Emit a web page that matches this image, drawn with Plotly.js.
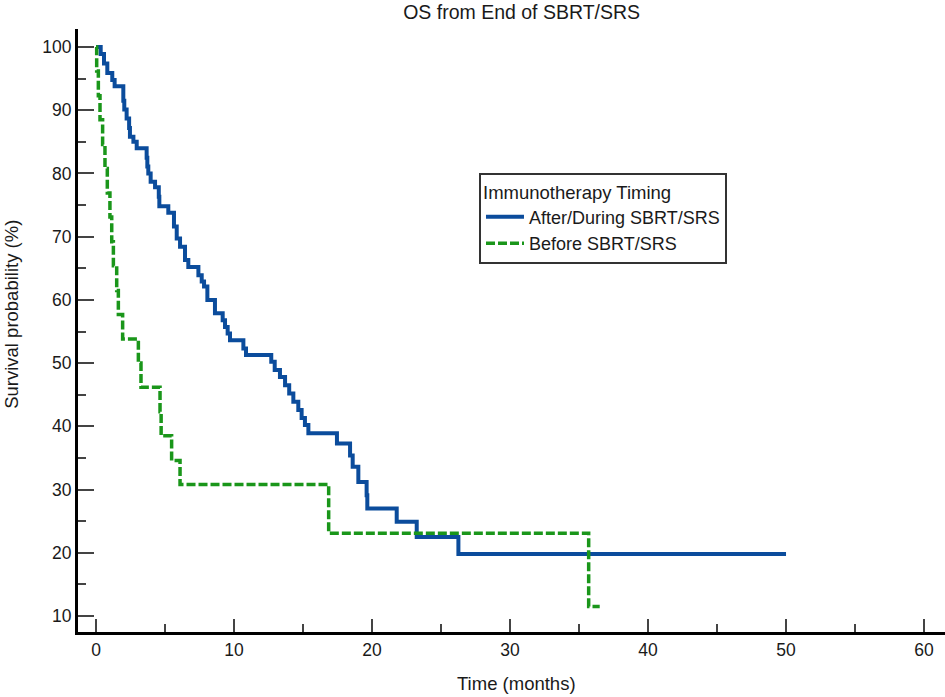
<!DOCTYPE html>
<html>
<head>
<meta charset="utf-8">
<script src="https://cdn.plot.ly/plotly-3.0.1.min.js"></script>
<style>html,body{margin:0;padding:0;background:#fff;}#chart{width:945px;height:697px;}</style>
</head>
<body>
<div id="chart"></div>
<script>
// Kaplan-Meier step data (time in months, survival in %)
const afterTimes = [0, 0.34, 0.58, 0.82, 1.18, 1.35, 1.98, 2.05, 2.22, 2.40, 2.46, 2.71, 2.95, 3.67, 3.72, 3.79, 3.96, 4.28, 4.55, 4.59, 5.24, 5.65, 5.85, 6.09, 6.45, 6.69, 7.42, 7.66, 7.83, 8.07, 8.62, 9.18, 9.35, 9.54, 9.71, 10.68, 10.87, 12.70, 12.95, 13.33, 13.70, 14.00, 14.30, 14.66, 14.90, 15.14, 15.39, 17.46, 18.41, 18.60, 19.01, 19.61, 19.66, 21.79, 23.24, 26.26, 50.0];
const afterSurv  = [100, 98.9, 97.4, 95.9, 94.8, 93.8, 91.5, 90.1, 88.7, 87.2, 85.8, 85.0, 84.0, 82.5, 81.1, 80.0, 78.7, 77.8, 76.3, 74.8, 73.8, 71.6, 69.7, 68.4, 66.3, 65.2, 63.9, 62.9, 62.1, 60.0, 57.9, 56.8, 55.7, 54.7, 53.6, 52.3, 51.3, 50.2, 48.9, 47.8, 46.5, 45.2, 43.9, 42.6, 41.3, 40.2, 38.9, 37.3, 35.4, 33.6, 31.2, 29.1, 27.0, 24.9, 22.5, 19.8, 19.8];

const beforeTimes = [0, 0.05, 0.17, 0.29, 0.48, 0.65, 0.82, 1.01, 1.14, 1.26, 1.50, 1.62, 1.93, 3.07, 3.26, 4.64, 4.72, 5.48, 6.09, 16.86, 35.7, 36.5];
const beforeSurv  = [100, 96.2, 92.3, 88.5, 84.6, 80.8, 76.9, 73.1, 69.2, 65.4, 61.5, 57.7, 53.8, 50.0, 46.2, 42.3, 38.5, 34.6, 30.8, 23.1, 11.5, 11.5];

const seriesNames = ["After/During SBRT/SRS", "Before SBRT/SRS"];
const xTickVals = [0, 10, 20, 30, 40, 50, 60];
const yTickVals = [10, 20, 30, 40, 50, 60, 70, 80, 90, 100];

const FONT = "Liberation Sans, Arial, sans-serif";
const TXT = "#1a1a1a";

const traces = [
  {
    x: afterTimes, y: afterSurv, name: seriesNames[0], type: "scatter", mode: "lines",
    line: {shape: "hv", color: "#0b4c9c", width: 4}
  },
  {
    x: beforeTimes, y: beforeSurv, name: seriesNames[1], type: "scatter", mode: "lines",
    line: {shape: "hv", color: "#1a961a", width: 3.5, dash: "9px,3px"}
  }
];

const layout = {
  width: 945, height: 697,
  margin: {l: 78, r: 0, t: 29, b: 65, pad: 0},
  paper_bgcolor: "#fff", plot_bgcolor: "#fff",
  font: {family: FONT, size: 17.5, color: TXT},
  title: {
    text: "OS from End of SBRT/SRS",
    font: {family: FONT, size: 19.5, color: TXT},
    x: 0.552, xref: "container", xanchor: "center",
    y: 0.983, yref: "container", yanchor: "middle"
  },
  xaxis: {
    range: [-1.304, 61.52],
    tickvals: xTickVals, ticktext: xTickVals.map(String),
    ticks: "inside", ticklen: 13, tickwidth: 2, tickcolor: "#444",
    minor: {dtick: 5, tick0: 0, ticks: "inside", ticklen: 8, tickwidth: 2, tickcolor: "#444", showgrid: false},
    showline: true, linecolor: "#000", linewidth: 3,
    showgrid: false, zeroline: false,
    tickfont: {family: FONT, size: 17.5, color: TXT}
  },
  yaxis: {
    range: [7.47, 102.85],
    tickvals: yTickVals, ticktext: yTickVals.map(String),
    ticks: "inside", ticklen: 16, tickwidth: 2, tickcolor: "#444",
    minor: {dtick: 5, tick0: 0, ticks: "inside", ticklen: 8, tickwidth: 2, tickcolor: "#444", showgrid: false},
    showline: true, linecolor: "#000", linewidth: 3,
    showgrid: false, zeroline: false,
    tickfont: {family: FONT, size: 17.5, color: TXT}
  },
  annotations: [
    {text: "Time (months)", xref: "paper", yref: "paper", x: 0.506, y: -0.0846,
     xanchor: "center", yanchor: "middle", showarrow: false,
     font: {family: FONT, size: 18.5, color: TXT}},
    {text: "Survival probability (%)", xref: "paper", yref: "paper", x: -0.0761, y: 0.526,
     xanchor: "center", yanchor: "middle", showarrow: false, textangle: -90,
     font: {family: FONT, size: 18.5, color: TXT}}
  ],
  showlegend: true,
  legend: {
    x: 0.4625, y: 0.762, xanchor: "left", yanchor: "top",
    bgcolor: "#fff", bordercolor: "#333", borderwidth: 2,
    font: {family: FONT, size: 18, color: TXT},
    title: {text: "Immunotherapy Timing", font: {family: FONT, size: 18.5, color: TXT}},
    itemwidth: 38, tracegroupgap: 0
  }
};

Plotly.newPlot("chart", traces, layout, {staticPlot: true, displayModeBar: false});
</script>
</body>
</html>
